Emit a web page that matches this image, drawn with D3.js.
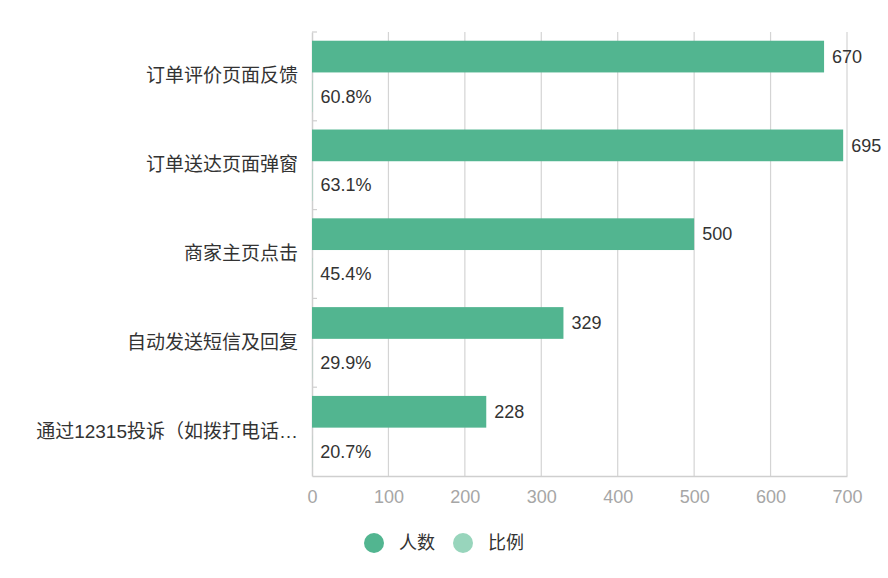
<!DOCTYPE html>
<html>
<head>
<meta charset="utf-8">
<script src="https://cdn.jsdelivr.net/npm/d3@7"></script>
<style>
  body { margin: 0; background: #fff; }
  svg text { font-family: "Liberation Sans", "Noto Sans CJK SC", sans-serif; }
</style>
</head>
<body>
<script>
// data
const categories = ["订单评价页面反馈", "订单送达页面弹窗", "商家主页点击", "自动发送短信及回复", "通过12315投诉（如拨打电话…"];
const counts = [670, 695, 500, 329, 228];        // 人数
const ratios = [60.8, 63.1, 45.4, 29.9, 20.7];   // 比例 (%)
const seriesNames = ["人数", "比例"];
const xTicks = [0, 100, 200, 300, 400, 500, 600, 700];

const colors = {"人数": "#52b590", "比例": "#98d5bc"};

// dimensions
const W = 888, H = 578;
const margin = {top: 32, right: 41, bottom: 102, left: 312};

const svg = d3.select("body").append("svg")
    .attr("width", W)
    .attr("height", H);

// scales
const x = d3.scaleLinear().domain([0, 700]).range([margin.left, W - margin.right]);
const y = d3.scaleBand().domain(categories).range([margin.top, H - margin.bottom]).padding(0);
const sub = d3.scaleBand().domain(seriesNames).range([0, y.bandwidth()])
    .paddingInner(0.2).paddingOuter(0.22);

// vertical grid lines
svg.append("g").selectAll("line")
    .data(xTicks.slice(1))
    .enter().append("line")
    .attr("x1", d => x(d)).attr("x2", d => x(d))
    .attr("y1", margin.top).attr("y2", H - margin.bottom)
    .attr("stroke", "#d4d4d4")
    .attr("stroke-width", 1.2);

// x axis
const xAxis = svg.append("g")
    .attr("transform", "translate(0," + (H - margin.bottom) + ")")
    .call(d3.axisBottom(x).tickValues(xTicks).tickSize(0).tickPadding(14));
xAxis.select(".domain").attr("stroke", "#cfcfcf").attr("stroke-width", 1.5);
xAxis.selectAll("text").attr("fill", "#a6a6a6").attr("font-size", 18);

// y axis
const yAxis = svg.append("g")
    .attr("transform", "translate(" + margin.left + ",0)")
    .call(d3.axisLeft(y).tickSize(0).tickPadding(14));
yAxis.select(".domain").attr("stroke", "#cfcfcf").attr("stroke-width", 1.5);
yAxis.selectAll("text").attr("fill", "#333").attr("font-size", 19);

// small inside ticks on category boundaries
const bounds = categories.map(c => y(c)).concat([H - margin.bottom]);
svg.append("g").selectAll("line")
    .data(bounds.slice(0, -1))
    .enter().append("line")
    .attr("x1", margin.left).attr("x2", margin.left + 5)
    .attr("y1", d => d).attr("y2", d => d)
    .attr("stroke", "#cfcfcf")
    .attr("stroke-width", 1.2);

// count bars
svg.append("g").selectAll("rect")
    .data(counts)
    .enter().append("rect")
    .attr("x", x(0))
    .attr("y", (d, i) => y(categories[i]) + sub("人数"))
    .attr("width", d => x(d) - x(0))
    .attr("height", sub.bandwidth())
    .attr("fill", colors["人数"]);

svg.append("g").selectAll("text")
    .data(counts)
    .enter().append("text")
    .attr("x", d => x(d) + 8)
    .attr("y", (d, i) => y(categories[i]) + sub("人数") + sub.bandwidth() / 2)
    .attr("dy", "0.35em")
    .attr("font-size", 18)
    .attr("fill", "#333")
    .text(d => d);

// ratio labels (bars are ratio/100 in count units, so practically zero width)
svg.append("g").selectAll("rect")
    .data(ratios)
    .enter().append("rect")
    .attr("x", x(0))
    .attr("y", (d, i) => y(categories[i]) + sub("比例"))
    .attr("width", d => x(d / 100) - x(0))
    .attr("height", sub.bandwidth())
    .attr("fill", colors["比例"]);

svg.append("g").selectAll("text")
    .data(ratios)
    .enter().append("text")
    .attr("x", d => x(d / 100) + 8)
    .attr("y", (d, i) => y(categories[i]) + sub("比例") + sub.bandwidth() / 2)
    .attr("dy", "0.35em")
    .attr("font-size", 18)
    .attr("fill", "#333")
    .text(d => d.toFixed(1) + "%");

// legend
const legend = svg.append("g").attr("transform", "translate(0,543)");
const legendX = [374, 463];
seriesNames.forEach(function(s, i) {
    legend.append("circle")
        .attr("cx", legendX[i]).attr("cy", 0).attr("r", 10)
        .attr("fill", colors[s]);
    legend.append("text")
        .attr("x", legendX[i] + 25).attr("y", 0)
        .attr("dy", "0.35em")
        .attr("font-size", 18)
        .attr("fill", "#333")
        .text(s);
});
</script>
</body>
</html>
